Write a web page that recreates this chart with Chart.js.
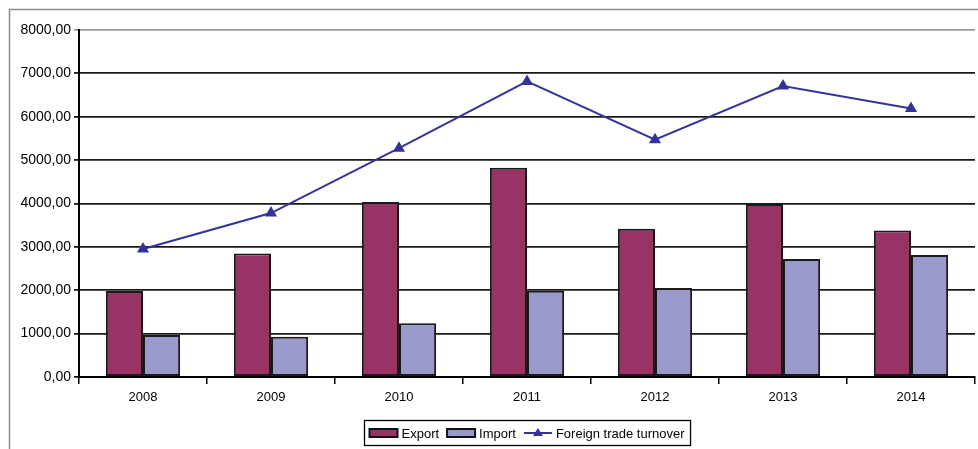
<!DOCTYPE html>
<html>
<head>
<meta charset="utf-8">
<script src="https://cdn.jsdelivr.net/npm/chart.js@4.4.1/dist/chart.umd.min.js"></script>
<style>
  html, body { margin: 0; padding: 0; background: #fff; }
  #wrap { width: 978px; height: 449px; position: relative; }
</style>
</head>
<body>
<div id="wrap"><canvas id="chart"></canvas></div>
<script>
// data
const years = ['2008', '2009', '2010', '2011', '2012', '2013', '2014'];
const exportVals = [1980, 2850, 4035, 4825, 3420, 3990, 3380];
const importVals = [970, 930, 1240, 1990, 2050, 2720, 2810];
const turnoverVals = [2950, 3780, 5275, 6815, 5470, 6710, 6190];
const seriesNames = ['Export', 'Import', 'Foreign trade turnover'];

const FONT = '"Liberation Sans", Arial, sans-serif';

// outer frame (left + top only, the rest is cut off)
const framePlugin = {
  id: 'frame',
  beforeDraw(chart) {
    const c = chart.ctx;
    c.save();
    c.fillStyle = '#fff';
    c.fillRect(0, 0, chart.width, chart.height);
    c.strokeStyle = '#8c8c8c';
    c.lineWidth = 1.5;
    c.beginPath();
    c.moveTo(9.5, chart.height);
    c.lineTo(9.5, 9.5);
    c.lineTo(chart.width, 9.5);
    c.stroke();
    c.restore();
  }
};

// legend drawn by hand: box, swatches, line with triangle (Export, Import, line)
const legendPlugin = {
  id: 'boxLegend',
  afterDraw(chart) {
    const c = chart.ctx;
    c.save();
    c.font = '13px ' + FONT;
    c.textBaseline = 'middle';
    const byName = {};
    chart.data.datasets.forEach(d => { byName[d.label] = d; });
    const ds = seriesNames.map(n => byName[n]);
    const sw = 28, gap = 4, itemGap = 8;
    let total = 5;
    ds.forEach(d => { total += sw + gap + c.measureText(d.label).width + itemGap; });
    total -= 2;
    const boxW = total, boxH = 25;
    const x0 = Math.round((363 + 692) / 2 - boxW / 2) + 0.5, y0 = 420.5;
    c.strokeStyle = '#000';
    c.lineWidth = 1.3;
    c.strokeRect(x0, y0, boxW, boxH);
    const cy = y0 + boxH / 2;
    let x = x0 + 5;
    ds.forEach(d => {
      if (d.type === 'line') {
        c.strokeStyle = d.borderColor;
        c.lineWidth = 2;
        c.beginPath(); c.moveTo(x, cy); c.lineTo(x + sw, cy); c.stroke();
        c.fillStyle = d.borderColor;
        const tx = x + sw / 2;
        c.beginPath(); c.moveTo(tx, cy - 5); c.lineTo(tx + 5, cy + 3); c.lineTo(tx - 5, cy + 3); c.closePath(); c.fill();
      } else {
        c.fillStyle = d.backgroundColor;
        c.fillRect(x, cy - 4, sw, 8);
        c.strokeStyle = '#111';
        c.lineWidth = 2;
        c.strokeRect(x, cy - 4, sw, 8);
      }
      x += sw + gap;
      c.fillStyle = '#000';
      c.fillText(d.label, x, cy + 1);
      x += c.measureText(d.label).width + itemGap;
    });
    c.restore();
  }
};

new Chart(document.getElementById('chart'), {
  data: {
    labels: years,
    datasets: [
      { type: 'bar', label: seriesNames[0], data: exportVals, backgroundColor: '#993366', borderColor: '#1a1a1a',
        borderWidth: 2, borderSkipped: false, categoryPercentage: 0.58, barPercentage: 1, order: 1 },
      { type: 'bar', label: seriesNames[1], data: importVals, backgroundColor: '#9999cc', borderColor: '#1a1a1a',
        borderWidth: 2, borderSkipped: false, categoryPercentage: 0.58, barPercentage: 1, order: 2 },
      { type: 'line', label: seriesNames[2], data: turnoverVals, borderColor: '#333399', backgroundColor: '#333399',
        borderWidth: 2, pointStyle: 'triangle', pointRadius: 5, pointHoverRadius: 5, tension: 0, order: 0 }
    ]
  },
  options: {
    responsive: true,
    maintainAspectRatio: false,
    animation: false,
    layout: { autoPadding: false, padding: { left: 0, top: 30, right: 3, bottom: 0 } },
    plugins: { legend: { display: false }, tooltip: { enabled: false } },
    scales: {
      x: {
        offset: true,
        grid: { display: true, drawOnChartArea: false, drawTicks: true, tickLength: 7, color: '#000', lineWidth: 1.5, offset: true },
        border: { color: '#000', width: 2 },
        ticks: { color: '#000', font: { family: FONT, size: 13 }, padding: 6 },
        afterFit(scale) { scale.height = 72; }
      },
      y: {
        min: 0, max: 8000,
        grid: {
          color: ctx => (ctx.tick && ctx.tick.value === 8000 ? '#9a9a9a' : '#1a1a1a'),
          lineWidth: 1.8, tickLength: 5
        },
        border: { color: '#000', width: 2 },
        ticks: {
          stepSize: 1000, color: '#000', font: { family: FONT, size: 14 }, padding: 3,
          callback: v => v.toFixed(2).replace('.', ',')
        },
        afterFit(scale) { scale.width = 79; }
      }
    }
  },
  plugins: [framePlugin, legendPlugin]
});
</script>
</body>
</html>
